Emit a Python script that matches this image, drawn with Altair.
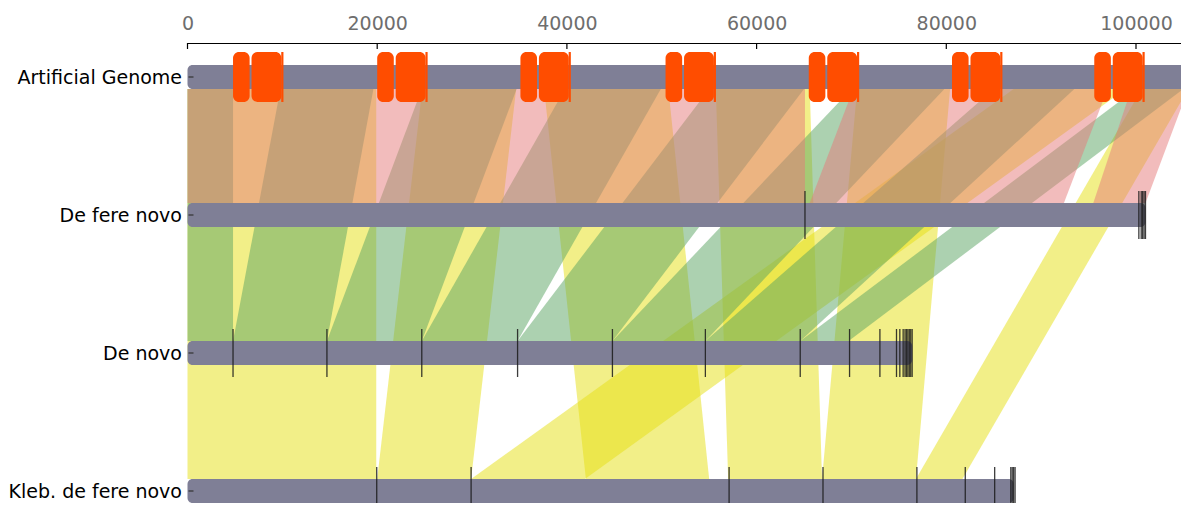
import altair as alt
import pandas as pd

# ---------------- data ----------------
genome_names = ["Artificial Genome", "De fere novo", "De novo", "Kleb. de fere novo"]
genome_rows = [0, 1, 2, 3]
genome_lengths = [105500, 101000, 76400, 87100]

x_tick_values = [0, 20000, 40000, 60000, 80000, 100000]

# contig boundaries drawn as dark ticks on the bars
dfn_breaks = [65100, 100300, 100550, 100700, 100850, 101000]
dn_breaks = [4800, 14700, 24700, 34800, 44800, 54600, 64600, 69800, 73000,
             74750, 75100, 75450, 75650, 75800, 75950, 76100, 76250, 76400]
kleb_breaks = [19950, 29900, 57100, 67000, 76900, 82000, 85100,
               86800, 86950, 87100, 87250]

# gene features on the artificial genome
gene_small_start = [4800, 20000, 35100, 50400, 65500, 80600, 95600]
gene_small_end = [6550, 21750, 36850, 52150, 67250, 82350, 97350]
gene_big_start = [6750, 21950, 37050, 52350, 67450, 82550, 97550]
gene_big_end = [9900, 25100, 40200, 55500, 70600, 85700, 100700]
gene_line_pos = [10000, 25200, 40300, 55600, 70700, 85800, 100800]

# alignment ribbons: Artificial Genome [a1,a2] -> target genome [b1,b2]
rib_target = [3, 3, 3, 3, 3, 3, 3,
              2, 2, 2, 2, 2, 2, 2, 2,
              1, 1, 1]
rib_a1 = [0, 24750, 37600, 55700, 70600, 87100, 100600,
          0, 9800, 24700, 39800, 55000, 70000, 85000, 100000,
          0, 70200, 99500]
rib_a2 = [19900, 34650, 50700, 65600, 80400, 98900, 105500,
          4800, 19600, 34700, 49900, 65000, 79800, 93500, 105000,
          65100, 97000, 105500]
rib_b1 = [0, 20000, 42000, 57000, 66900, 29900, 76800,
          0, 4800, 14700, 24700, 34800, 44800, 54600, 64600,
          0, 65600, 95500]
rib_b2 = [19900, 29900, 55000, 66900, 76800, 41900, 81700,
          4800, 14700, 24700, 34800, 44800, 54600, 64600, 69700,
          65100, 92400, 101000]

target_colors = {1: "#e57979", 2: "#59a361", 3: "#e5df11"}

# ---------------- tables ----------------
ROW_PX = 138.0
HALF_BAR = 12.0 / ROW_PX

rib_rows = []
for i, t in enumerate(rib_target):
    rib_rows.append({"rid": i, "target": t, "y": 0 + HALF_BAR, "x": rib_a1[i], "x2": rib_a2[i]})
    rib_rows.append({"rid": i, "target": t, "y": t - HALF_BAR, "x": rib_b1[i], "x2": rib_b2[i]})
ribbons = pd.DataFrame(rib_rows)

genomes = pd.DataFrame({"name": genome_names, "row": genome_rows,
                        "start": [0] * 4, "length": genome_lengths})

breaks = pd.DataFrame(
    [{"row": 1, "pos": p} for p in dfn_breaks]
    + [{"row": 2, "pos": p} for p in dn_breaks]
    + [{"row": 3, "pos": p} for p in kleb_breaks]
)

genes = pd.DataFrame({
    "row": [0] * 14,
    "start": gene_small_start + gene_big_start,
    "end": gene_small_end + gene_big_end,
})
gene_lines = pd.DataFrame({"row": [0] * 7, "pos": gene_line_pos})
xticks_df = pd.DataFrame({"pos": x_tick_values})

# ---------------- scales & axes ----------------
W = 993.5
PX_PER_BP = 0.009485
top_dom = -34.0 / ROW_PX
H = 460
bot_dom = top_dom + H / ROW_PX
xscale = alt.Scale(domain=[0, W / PX_PER_BP], nice=False, zero=False, padding=0)
yscale = alt.Scale(domain=[top_dom, bot_dom], reverse=True, nice=False, zero=False, padding=0)

label_expr = "[" + ",".join("'" + n + "'" for n in genome_names) + "][datum.value]"

y_axis = alt.Axis(values=genome_rows, labelExpr=label_expr, title=None,
                  domain=False, ticks=False, grid=False, labelPadding=6,
                  labelFont="DejaVu Sans", labelFontSize=19,
                  labelColor="#000000")
x_axis = alt.Axis(orient="top", values=x_tick_values, title=None,
                  grid=False, ticks=False, labelPadding=10,
                  labelFont="DejaVu Sans", labelFontSize=19,
                  labelColor="#6e6e6e", domainColor="#000000",
                  domainWidth=1.2, format="d", labelFlush=False)


def X(field):
    return alt.X(field, scale=xscale, axis=x_axis)


def Y(field):
    return alt.Y(field, scale=yscale, axis=y_axis)


# ---------------- layers ----------------
ribbon_layers = []
for t in [3, 2, 1]:
    ribbon_layers.append(
        alt.Chart(ribbons[ribbons.target == t]).mark_area(
            orient="horizontal", fill=target_colors[t], fillOpacity=0.5, strokeWidth=0
        ).encode(
            y=Y("y:Q"),
            x=X("x:Q"),
            x2="x2:Q",
            detail="rid:N",
        )
    )

bars = alt.Chart(genomes).mark_bar(
    orient="horizontal", size=24, cornerRadius=5, color="#7f7f96"
).encode(
    y=Y("row:Q"),
    x=X("start:Q"),
    x2="length:Q",
)

left_dash = alt.Chart(genomes).mark_rule(color="#333333", strokeWidth=1.2).encode(
    y=Y("row:Q"),
    x=alt.value(1), x2=alt.value(6),
)

xtick_marks = alt.Chart(xticks_df).mark_rule(color="#000000", strokeWidth=1.2).encode(
    x=X("pos:Q"),
    y=alt.value(0), y2=alt.value(6),
)

break_marks = alt.Chart(breaks).transform_calculate(
    y1="datum.row - 0.174", y2="datum.row + 0.174"
).mark_rule(color="#1a1a1a", strokeWidth=1.3, opacity=0.85).encode(
    x=X("pos:Q"),
    y=Y("y1:Q"),
    y2="y2:Q",
)

gene_marks = alt.Chart(genes).mark_bar(
    orient="horizontal", size=50, cornerRadius=6, color="#ff4d00"
).encode(
    y=Y("row:Q"),
    x=X("start:Q"),
    x2="end:Q",
)

gene_line_marks = alt.Chart(gene_lines).transform_calculate(
    y1="datum.row - 0.181", y2="datum.row + 0.181"
).mark_rule(color="#ff4d00", strokeWidth=2.2).encode(
    x=X("pos:Q"),
    y=Y("y1:Q"),
    y2="y2:Q",
)

chart = alt.layer(
    *ribbon_layers, bars, left_dash, break_marks, gene_marks, gene_line_marks, xtick_marks
).properties(
    width=W, height=H,
    autosize=alt.AutoSizeParams(type="none"),
    padding={"left": 179.5, "top": 35, "right": 0, "bottom": 0},
    background="#ffffff",
).configure_view(stroke=None)

chart.save("out.html", embed_options={"renderer": "svg", "actions": False})
